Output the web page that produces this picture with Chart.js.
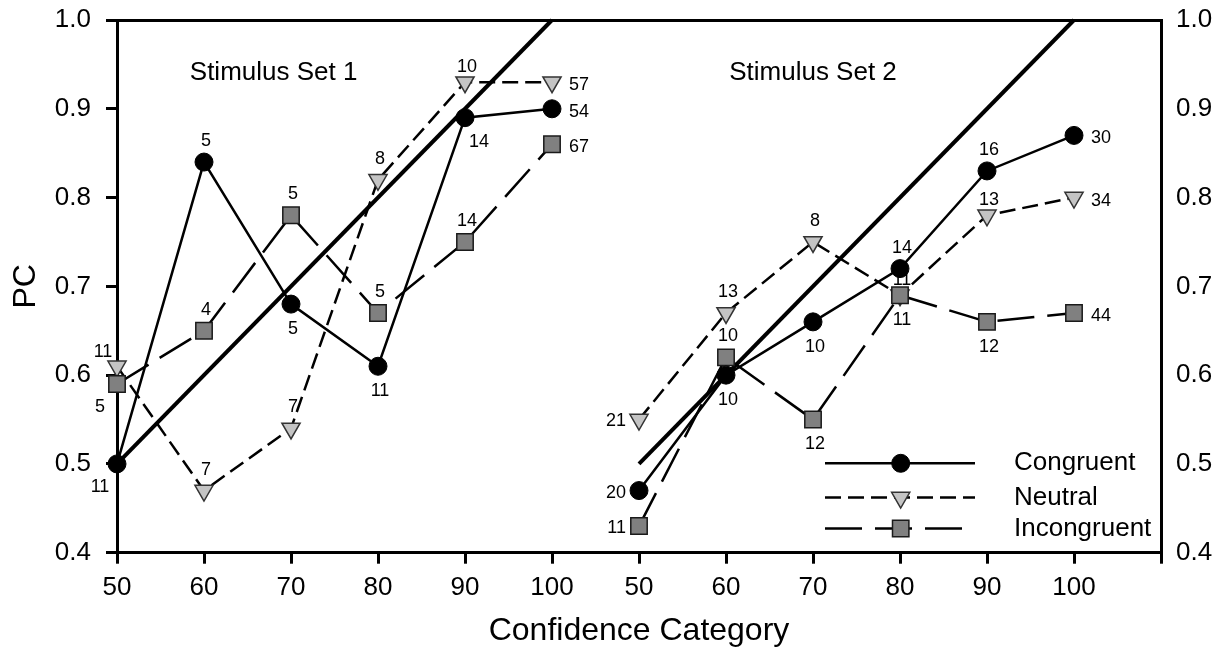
<!DOCTYPE html>
<html><head><meta charset="utf-8">
<script src="https://cdn.jsdelivr.net/npm/chart.js@4.4.1/dist/chart.umd.min.js"></script>
<style>html,body{margin:0;padding:0;background:#fff;} #wrap{width:1222px;height:648px;position:relative;}</style>
</head><body><div id="wrap"><canvas id="c"></canvas></div>
<script>
// ---- data ----
const categories = [50, 60, 70, 80, 90, 100];
const set2Offset = 60;
const xTickValues = [50, 60, 70, 80, 90, 100, 110, 120, 130, 140, 150, 160, 170];
const xTickLabels = ['50', '60', '70', '80', '90', '100', '50', '60', '70', '80', '90', '100', ''];
const yTickValues = [0.4, 0.5, 0.6, 0.7, 0.8, 0.9, 1.0];

const set1Congruent   = [0.50, 0.84, 0.68, 0.61, 0.89, 0.90];
const set1Neutral     = [0.61, 0.47, 0.54, 0.82, 0.93, 0.93];
const set1Incongruent = [0.59, 0.65, 0.78, 0.67, 0.75, 0.86];
const set2Congruent   = [0.47, 0.60, 0.66, 0.72, 0.83, 0.87];
const set2Neutral     = [0.55, 0.67, 0.75, 0.69, 0.78, 0.80];
const set2Incongruent = [0.43, 0.62, 0.55, 0.69, 0.66, 0.67];

const set1CongruentN   = ['11', '5', '5', '11', '14', '54'];
const set1NeutralN     = ['11', '7', '7', '8', '10', '57'];
const set1IncongruentN = ['5', '4', '5', '5', '14', '67'];
const set2CongruentN   = ['20', '10', '10', '14', '16', '30'];
const set2NeutralN     = ['21', '13', '8', '11', '13', '34'];
const set2IncongruentN = ['11', '10', '12', '11', '12', '44'];

// label placement codes
const set1CongruentPos   = ['bl', 'a', 'b', 'b', 'br', 'r'];
const set1NeutralPos     = ['al', 'a', 'a', 'a', 'an', 'r'];
const set1IncongruentPos = ['bl', 'a', 'a', 'a', 'a', 'r'];
const set2CongruentPos   = ['l', 'b', 'b', 'a', 'a', 'r'];
const set2NeutralPos     = ['l', 'a', 'a', 'an', 'an', 'r'];
const set2IncongruentPos = ['l', 'a', 'b', 'b', 'b', 'r'];

const diagX = [50, 100];
const diagY = [0.5, 1.0];

const panelTitles = ['Stimulus Set 1', 'Stimulus Set 2'];
const panelTitleX = [68, 130];
const panelTitleY = 0.941;

const seriesNames = ['Congruent', 'Neutral', 'Incongruent'];

// ---- build ----
function pts(vals, off) { return categories.map((c, i) => ({x: c + off, y: vals[i]})); }

const FONT = "'Liberation Sans', Arial, sans-serif";
const styles = {
  Congruent:   {pointStyle: 'circle', radius: 9, bg: '#000', bc: '#000', bw: 1, dash: [], rot: 0, order: 1},
  Neutral:     {pointStyle: 'triangle', radius: 10.5, bg: '#c4c4c4', bc: '#333', bw: 1.5, dash: [16, 7], rot: 180, order: 3},
  Incongruent: {pointStyle: 'rect', radius: 11.6, bg: '#808080', bc: '#1a1a1a', bw: 1.5, dash: [37, 13], rot: 0, order: 2}
};

function ds(name, vals, off, labels, pos) {
  const s = styles[name];
  return {
    label: name, data: pts(vals, off), nLabels: labels, nPos: pos,
    borderColor: '#000', borderWidth: 2.5, borderDash: s.dash, fill: false, tension: 0,
    pointStyle: s.pointStyle, pointRadius: s.radius, pointRotation: s.rot,
    pointBackgroundColor: s.bg, pointBorderColor: s.bc, pointBorderWidth: s.bw,
    clip: false, order: s.order, xAxisID: 'x', yAxisID: 'y'
  };
}

const datasets = [
  ds('Congruent', set1Congruent, 0, set1CongruentN, set1CongruentPos),
  ds('Congruent', set2Congruent, set2Offset, set2CongruentN, set2CongruentPos),
  ds('Incongruent', set1Incongruent, 0, set1IncongruentN, set1IncongruentPos),
  ds('Incongruent', set2Incongruent, set2Offset, set2IncongruentN, set2IncongruentPos),
  ds('Neutral', set1Neutral, 0, set1NeutralN, set1NeutralPos),
  ds('Neutral', set2Neutral, set2Offset, set2NeutralN, set2NeutralPos),
  {label: 'diag1', data: diagX.map((x, i) => ({x: x, y: diagY[i]})), borderColor: '#000', borderWidth: 4,
   pointRadius: 0, clip: false, order: 10, fill: false},
  {label: 'diag2', data: diagX.map((x, i) => ({x: x + set2Offset, y: diagY[i]})), borderColor: '#000', borderWidth: 4,
   pointRadius: 0, clip: false, order: 10, fill: false}
];

const offsets = {
  a:  {dx: 2, dy: -21, align: 'center'},
  an: {dx: 2, dy: -15, align: 'center'},
  b:  {dx: 2, dy: 25, align: 'center'},
  l:  {dx: -13, dy: 2, align: 'right'},
  r:  {dx: 17, dy: 3, align: 'left'},
  al: {dx: -14, dy: -14, align: 'center'},
  bl: {dx: -17, dy: 23, align: 'center'},
  br: {dx: 14, dy: 24, align: 'center'}
};

const labelPlugin = {
  id: 'nlabels',
  afterDatasetsDraw(chart) {
    const ctx = chart.ctx;
    ctx.save();
    ctx.fillStyle = '#000';
    ctx.textBaseline = 'middle';
    ctx.font = '18px ' + FONT;
    chart.data.datasets.forEach((d, di) => {
      if (!d.nLabels) return;
      const meta = chart.getDatasetMeta(di);
      meta.data.forEach((el, i) => {
        const o = offsets[d.nPos[i]];
        ctx.textAlign = o.align;
        ctx.fillText(d.nLabels[i], el.x + o.dx, el.y + o.dy);
      });
    });
    const xs = chart.scales.x, ys = chart.scales.y;
    ctx.font = '26px ' + FONT;
    ctx.textAlign = 'center';
    panelTitles.forEach((t, i) => {
      ctx.fillText(t, xs.getPixelForValue(panelTitleX[i]), ys.getPixelForValue(panelTitleY));
    });
    ctx.restore();
  },
  afterDraw(chart) {
    const ctx = chart.ctx;
    const x0 = 825, x1 = 975, mx = 900.7, tx = 1014;
    const rows = [463.3, 497.5, 528.5];
    ctx.save();
    seriesNames.forEach((name, i) => {
      const s = styles[name];
      const y = rows[i];
      ctx.strokeStyle = '#000';
      ctx.lineWidth = 2.5;
      ctx.setLineDash(s.dash);
      ctx.beginPath();
      ctx.moveTo(x0, y);
      ctx.lineTo(name === 'Incongruent' ? 962 : x1, y);
      ctx.stroke();
      ctx.setLineDash([]);
      ctx.fillStyle = s.bg;
      ctx.strokeStyle = s.bc;
      ctx.lineWidth = s.bw;
      ctx.beginPath();
      if (s.pointStyle === 'circle') {
        ctx.arc(mx, y, s.radius, 0, Math.PI * 2);
      } else if (s.pointStyle === 'triangle') {
        const r = s.radius;
        ctx.moveTo(mx, y + r);
        ctx.lineTo(mx - r * Math.sin(Math.PI / 3), y - r / 2);
        ctx.lineTo(mx + r * Math.sin(Math.PI / 3), y - r / 2);
        ctx.closePath();
      } else {
        const h = s.radius * Math.SQRT1_2;
        ctx.rect(mx - h, y - h, 2 * h, 2 * h);
      }
      ctx.fill();
      ctx.stroke();
      ctx.fillStyle = '#000';
      ctx.font = '26px ' + FONT;
      ctx.textAlign = 'left';
      ctx.textBaseline = 'middle';
      ctx.fillText(name, tx, y);
    });
    ctx.restore();
  }
};

Chart.defaults.font.family = FONT;
Chart.defaults.color = '#000';

function noVPad(s) { s.paddingTop = 0; s.paddingBottom = 0; }

new Chart(document.getElementById('c'), {
  type: 'line',
  data: {datasets: datasets},
  options: {
    responsive: true, maintainAspectRatio: false, animation: false, events: [],
    layout: {padding: {top: 20, left: 0, right: 0, bottom: 0}},
    plugins: {legend: {display: false}, tooltip: {enabled: false}},
    scales: {
      x: {
        type: 'linear', position: 'bottom', min: 50, max: 170,
        afterBuildTicks: s => { s.ticks = xTickValues.map(v => ({value: v})); },
        afterFit: s => { s.height = 95.3; s.paddingLeft = 0; s.paddingRight = 0; },
        ticks: {callback: (v, i) => xTickLabels[i], font: {size: 26}, padding: 9, maxRotation: 0, autoSkip: false},
        grid: {display: true, drawOnChartArea: false, drawTicks: true, tickLength: 11, color: '#000', lineWidth: 3},
        border: {display: true, color: '#000', width: 3},
        title: {display: true, text: 'Confidence Category', font: {size: 32, lineHeight: 1.05}, padding: {top: 0, bottom: 0}}
      },
      x2: {
        type: 'linear', position: 'top', min: 50, max: 170,
        afterFit: s => { s.height = 0; s.paddingLeft = 0; s.paddingRight = 0; },
        ticks: {display: false},
        grid: {display: false},
        border: {display: true, color: '#000', width: 3}
      },
      y: {
        type: 'linear', position: 'left', min: 0.4, max: 1.0,
        afterBuildTicks: s => { s.ticks = yTickValues.map(v => ({value: v})); },
        afterFit: s => { s.width = 117; noVPad(s); },
        ticks: {callback: v => v.toFixed(1), font: {size: 26}, padding: 15},
        grid: {display: true, drawOnChartArea: false, drawTicks: true, tickLength: 11, color: '#000', lineWidth: 3},
        border: {display: true, color: '#000', width: 3},
        title: {display: true, text: 'PC', font: {size: 32}, padding: {top: 7, bottom: 0}}
      },
      y2: {
        type: 'linear', position: 'right', min: 0.4, max: 1.0,
        afterBuildTicks: s => { s.ticks = yTickValues.map(v => ({value: v})); },
        afterFit: s => { s.width = 61; noVPad(s); },
        ticks: {callback: v => v.toFixed(1), font: {size: 26}, padding: 7},
        grid: {display: false},
        border: {display: true, color: '#000', width: 3}
      }
    }
  },
  plugins: [labelPlugin]
});
</script></body></html>
